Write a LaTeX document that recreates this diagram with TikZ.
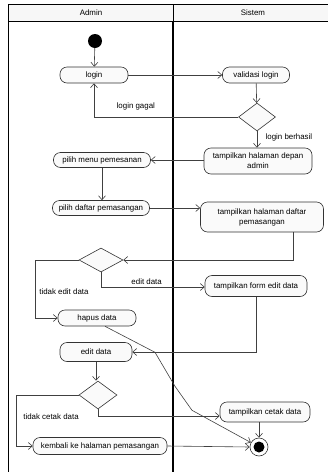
\documentclass[tikz,border=0pt]{standalone}
\usepackage{fontspec}
\setmainfont{Liberation Sans}
\usetikzlibrary{arrows.meta,shapes.geometric}

\begin{document}
\begin{tikzpicture}[
    x=1pt, y=-1pt,
    font=\fontsize{7.9}{10}\selectfont,
    act/.style={draw=black!80, fill=black!2, line width=0.6pt, rounded corners=7pt,
      align=center, inner sep=1pt, minimum height=16pt},
    decision/.style={diamond, draw=black!80, fill=black!2, line width=0.6pt, inner sep=0pt},
    ar/.style={-{Straight Barb[length=4pt,width=7pt]}, draw=black!75, line width=0.6pt},
  ]
    \useasboundingbox (0,0) rectangle (328,472);
    % Swimlanes
    \fill[black!3] (8,4) rectangle (340,21);
    \draw[line width=0.8pt] (8,474) -- (8,4) -- (340,4);
    \draw[line width=0.8pt] (8,21) -- (340,21);
    \draw[line width=0.6pt] (173,4) -- (173,21);
    \draw[line width=2.4pt] (173,21) -- (173,474);
    \node (admin)  at (91,13)  {Admin};
    \node (sistem) at (253,13) {Sistem};
    % Login part
    \node[circle, fill=black, minimum size=14pt, inner sep=0pt] (start) at (95,41) {};
    \node[act, minimum width=68pt]  (login) at (94,75)  {login};
    \node[act, minimum width=67pt]  (valid) at (256,75) {validasi login};
    \node[decision, minimum width=37pt, minimum height=28pt] (cek) at (257,117) {};
    \node[act, minimum width=108pt, minimum height=26pt] (depan) at (258,161)
      {tampilkan halaman depan\\admin};
    % Pemesanan part
    \node[act, minimum width=97pt, minimum height=15pt] (menu)   at (102,160) {pilih menu pemesanan};
    \node[act, minimum width=97pt, minimum height=15pt] (daftar) at (101,208) {pilih daftar pemasangan};
    \node[act, minimum width=123pt, minimum height=30pt] (hdaftar) at (262,217)
      {tampilkan halaman daftar\\pemasangan};
    \node[decision, minimum width=44pt, minimum height=24pt] (pilihedit) at (101,260) {};
    \node[act, minimum width=102pt, minimum height=21pt] (form)  at (256,286) {tampilkan form edit data};
    \node[act, minimum width=78pt]  (hapus) at (97,318)  {hapus data};
    \node[act, minimum width=72pt, minimum height=19pt] (edit) at (96,352) {edit data};
    \node[decision, minimum width=38pt, minimum height=28pt] (pilihcetak) at (98,395) {};
    \node[act, minimum width=90pt, minimum height=20pt] (cetak)   at (265,412) {tampilkan cetak data};
    \node[act, minimum width=134pt, minimum height=17pt] (kembali) at (100,446) {kembali ke halaman pemasangan};
    \node[circle, draw=black!80, fill=white, line width=0.6pt, minimum size=18pt, inner sep=0pt] (final) at (259,447) {};
    \fill (final) circle (5.5pt);
    % Login arrows
    \draw[ar] (start) -- (login);
    \draw[ar] (login) -- (valid);
    \draw[ar] (valid) -- (cek);
    \draw[ar] (cek.west) -| node[pos=0.355, above=3pt] {login gagal} (login.south);
    \draw[ar] (cek.south) -- node[pos=0.4, right=5pt] {login berhasil} (depan.north -| cek.south);
    \draw[ar] (depan.west |- menu.east) -- (menu.east);
    % Pemesanan arrows
    \draw[ar] (menu.south) -- (daftar.north -| menu.south);
    \draw[ar] (daftar.east) -- (hdaftar.west |- daftar.east);
    \draw[ar] ([xshift=31pt]hdaftar.south) |- (pilihedit.east);
    \draw[ar] (pilihedit.south) |- node[pos=0.72, above=-1pt] {edit data} ([yshift=-1pt]form.west);
    \draw[ar] (pilihedit.west) -- ++(-43,0) |- node[pos=0.27, right=0pt] {tidak edit data} (hapus.west);
    \draw[ar] (form.south) |- (edit.east);
    \draw[ar] ([xshift=8pt]hapus.south) -- ++(50,26) -- ++(20,34) -- ++(17,24) -- (final);
    % Cetak arrows
    \draw[ar] (edit.south) -- (pilihcetak.north -| edit.south);
    \draw[ar] (pilihcetak.south) |- ([yshift=-4pt]cetak.west);
    \draw[ar] (pilihcetak.west) -- ++(-62,0) |- node[pos=0.21, right=3pt] {tidak cetak data} (kembali.west);
    \draw[ar] (cetak.south -| final.north) -- (final.north);
    \draw[ar] (kembali.east) -- (final.west);
  \end{tikzpicture}
\end{document}
